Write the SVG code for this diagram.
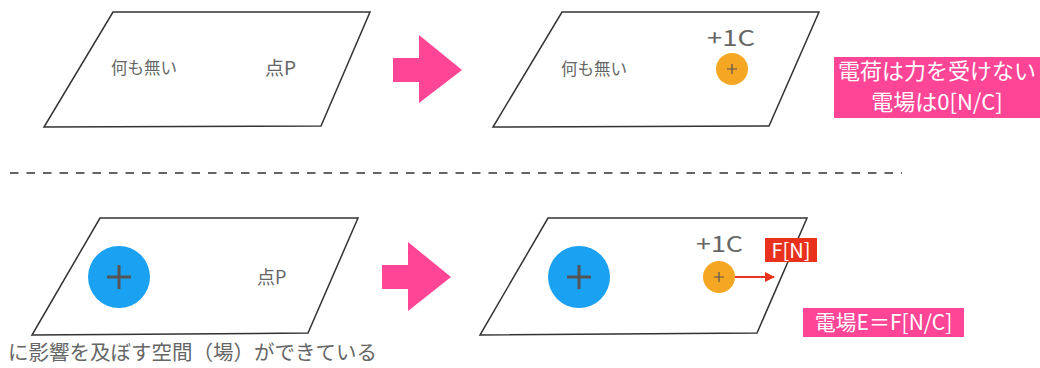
<svg xmlns="http://www.w3.org/2000/svg" width="1040" height="368" viewBox="0 0 1040 368">
<defs>
<style>
.plane{fill:#fff;stroke:#333;stroke-width:1.5;stroke-linejoin:miter}
.lbl{font-family:"Noto Sans CJK JP","Noto Sans",sans-serif;fill:#666}
.wt{font-family:"Noto Sans CJK JP","Noto Sans",sans-serif;fill:#fff}
.big{fill:#1ba1f2}
.small{fill:#f5a623}
.plus{stroke:#555;stroke-linecap:butt}
.bigarrow{fill:#ff4596}
.pinkbox{fill:#ff4596}
</style>
<marker id="ah" viewBox="0 0 10 10" refX="9" refY="5" markerWidth="5.5" markerHeight="5" orient="auto"><path d="M0,0L10,5L0,10z" fill="#e8321e"/></marker>
</defs>
<g id="plane-top-left">
<polygon class="plane" points="113,12 370,12 321,126 44,127"/>
<text class="lbl" x="111" y="74" font-size="16.5">何も無い</text>
<text class="lbl" x="265" y="75" font-size="19">点P</text>
</g>
<g id="arrow-top">
<polygon class="bigarrow" points="393,58 419,58 419,35 462,70 419,103 419,82 393,82"/>
</g>
<g id="plane-top-right">
<polygon class="plane" points="562,12 819,12 769,126 493,127"/>
<text class="lbl" x="561" y="75" font-size="16.5">何も無い</text>
<text class="lbl" x="707" y="46" font-size="22" textLength="48" lengthAdjust="spacingAndGlyphs">+1C</text>
<circle class="small" cx="732" cy="69" r="16"/>
<path class="plus" stroke-width="1.2" d="M727,69h10M732,64v10"/>
</g>
<g id="label-top">
<rect class="pinkbox" x="834" y="57" width="206" height="61"/>
<text class="wt" x="937" y="79" font-size="22" text-anchor="middle">電荷は力を受けない</text>
<text class="wt" x="937" y="110" font-size="22" text-anchor="middle">電場は0[N/C]</text>
</g>
<g id="plane-bottom-left">
<polygon class="plane" points="100,218 358,218 308,333 32,335"/>
<circle class="big" cx="119" cy="277" r="31"/>
<path class="plus" stroke-width="3" d="M107,277h24M119,265v24"/>
<text class="lbl" x="257" y="284" font-size="18">点P</text>
</g>
<g id="arrow-bottom">
<polygon class="bigarrow" points="382,265 408,265 408,242 451,277 408,311 408,289 382,289"/>
</g>
<g id="plane-bottom-right">
<polygon class="plane" points="548,218 807,218 757,333 480,335"/>
<circle class="big" cx="579" cy="277" r="31"/>
<path class="plus" stroke-width="3" d="M567,277h24M579,265v24"/>
<text class="lbl" x="696" y="252" font-size="22" textLength="47" lengthAdjust="spacingAndGlyphs">+1C</text>
<circle class="small" cx="719" cy="277" r="16"/>
<path class="plus" stroke-width="1.2" d="M714,277h10M719,272v10"/>
</g>
<g id="connectors">
<line x1="10" y1="173" x2="902" y2="173" stroke="#333" stroke-width="1.5" stroke-dasharray="8.5 8"/>
<line x1="735" y1="277" x2="774" y2="277" stroke="#e8321e" stroke-width="2" marker-end="url(#ah)"/>
</g>
<g id="label-force">
<rect x="765" y="238" width="52" height="24" fill="#e8321e"/>
<text class="wt" x="791" y="258" font-size="20" text-anchor="middle">F[N]</text>
</g>
<g id="label-bottom">
<rect class="pinkbox" x="803" y="308" width="161" height="29"/>
<text class="wt" x="883.5" y="330" font-size="21" text-anchor="middle">電場E＝F[N/C]</text>
</g>
<g id="caption">
<text class="lbl" x="8" y="360" font-size="20.5" fill="#555">に影響を及ぼす空間（場）ができている</text>
</g>
</svg>
